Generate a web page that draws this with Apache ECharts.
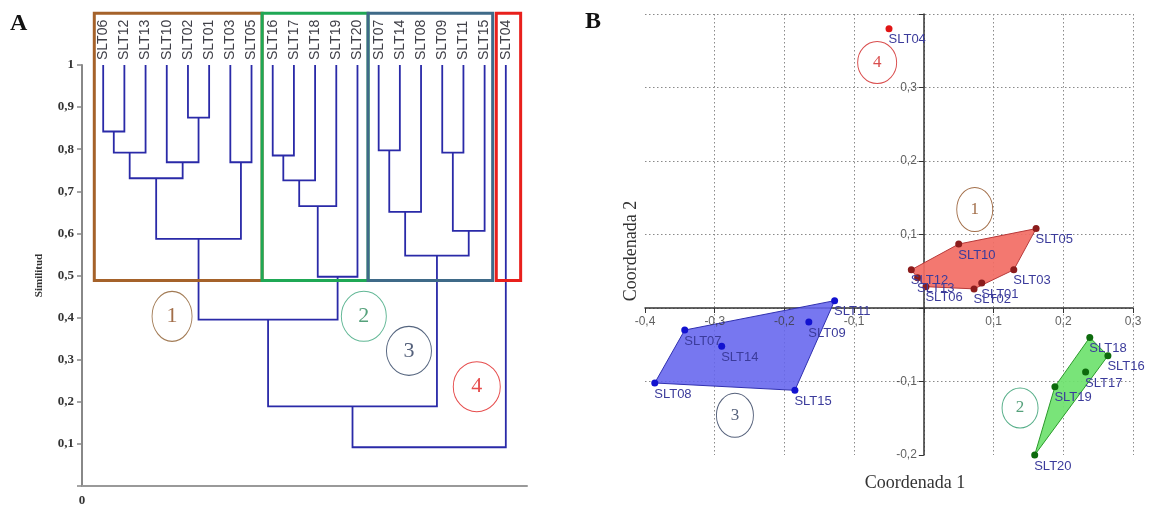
<!DOCTYPE html>
<html><head><meta charset="utf-8">
<script src="https://cdn.jsdelivr.net/npm/echarts@6/dist/echarts.min.js"></script>
<style>html,body{margin:0;padding:0;background:#fff}#c{width:1149px;height:507px}</style>
</head><body><div id="c"></div>
<script>
// ---------- DATA: panel A (dendrogram) ----------
const leafNames = ['SLT06','SLT12','SLT13','SLT10','SLT02','SLT01','SLT03','SLT05',
  'SLT16','SLT17','SLT18','SLT19','SLT20','SLT07','SLT14','SLT08','SLT09','SLT11','SLT15','SLT04'];
// [left child, right child, similarity]; children are leaf names or 'm<index>'
const merges = [
  ['SLT06','SLT12',0.842], ['m0','SLT13',0.792], ['SLT02','SLT01',0.875], ['SLT10','m2',0.769],
  ['m1','m3',0.731], ['SLT03','SLT05',0.769], ['m4','m5',0.587],
  ['SLT16','SLT17',0.785], ['m7','SLT18',0.726], ['m8','SLT19',0.665], ['m9','SLT20',0.497],
  ['SLT07','SLT14',0.797], ['m11','SLT08',0.651], ['SLT09','SLT11',0.792], ['m13','SLT15',0.606],
  ['m12','m14',0.547], ['m6','m10',0.395], ['m16','m15',0.189], ['m17','SLT04',0.092]
];
const cutLevel = 0.488;
const clusterFirstLeaf = ['SLT06','SLT16','SLT07','SLT04'];
const clusterLastLeaf  = ['SLT05','SLT20','SLT15','SLT04'];
const clusterIds = ['1','2','3','4'];

// ---------- DATA: panel B (PCoA) ----------
const pointNames = ['SLT01','SLT02','SLT03','SLT04','SLT05','SLT06','SLT07','SLT08','SLT09','SLT10',
  'SLT11','SLT12','SLT13','SLT14','SLT15','SLT16','SLT17','SLT18','SLT19','SLT20'];
const coord1 = [0.083,0.072,0.129,-0.050,0.161,0.003,-0.343,-0.386,-0.165,0.050,
  -0.128,-0.018,-0.009,-0.290,-0.185,0.264,0.232,0.238,0.188,0.159];
const coord2 = [0.034,0.026,0.052,0.380,0.108,0.029,-0.030,-0.102,-0.019,0.087,
  0.010,0.052,0.041,-0.052,-0.112,-0.065,-0.087,-0.040,-0.107,-0.200];
const pointCluster = [1,1,1,4,1,1,3,3,3,1,3,1,1,3,3,2,2,2,2,2];
const xTicksB = [-0.4,-0.3,-0.2,-0.1,0.1,0.2,0.3];
const yTicksB = [-0.2,-0.1,0.1,0.2,0.3];

// ---------- STYLE ----------
const boxColors = ['#a5622a','#1fa855','#3f6a88','#e8201c'];
const boxPad = [[0.42,0.5],[0.5,0.5],[0.5,0.38],[0.45,0.7]];
const boxTop = 1.123;
const annA = [ // ellipse annotations panel A (data units), size px
  {id:'1', x:3.25, y:0.403, w:40, h:50, border:'#8b5a2b', color:'#8b4a1b'},
  {id:'2', x:12.3, y:0.403, w:45, h:50, border:'#3aa57a', color:'#2a8a5a'},
  {id:'3', x:14.43, y:0.321, w:45, h:49, border:'#2a3f5f', color:'#2a3a5a'},
  {id:'4', x:17.63, y:0.236, w:47, h:50, border:'#e02020', color:'#e02020'}
];
const annB = [
  {id:'4', x:-0.067, y:0.334, w:39, h:42, border:'#d02020', color:'#d02020'},
  {id:'1', x:0.073, y:0.134, w:36, h:44, border:'#8b4a1b', color:'#8b4a1b'},
  {id:'3', x:-0.271, y:-0.146, w:37, h:44, border:'#2a3a5a', color:'#2a3a5a'},
  {id:'2', x:0.138, y:-0.136, w:36, h:40, border:'#2a9a6a', color:'#2a8a5a'}
];
const clusterPoint = {1:'#8b1c1c', 2:'#0d6b0d', 3:'#1212d0', 4:'#e01515'};
const clusterFill = {1:'rgba(242,108,100,0.92)', 2:'rgba(110,226,110,0.92)', 3:'rgba(100,100,238,0.88)'};
const clusterEdge = {1:'#b83a3a', 2:'#2a9a2a', 3:'#3030b0'};

// ---------- BUILD dendrogram ----------
const pos = {};
leafNames.forEach((n,i)=>{pos[n]={x:i,h:1};});
const links = [];
merges.forEach((m,i)=>{
  const a=pos[m[0]], b=pos[m[1]], h=m[2];
  links.push({coords:[[a.x,a.h],[a.x,h],[b.x,h],[b.x,b.h]]});
  pos['m'+i]={x:(a.x+b.x)/2,h:h};
});
const boxes = clusterFirstLeaf.map((f,i)=>{
  const i0=leafNames.indexOf(f), i1=leafNames.indexOf(clusterLastLeaf[i]);
  return [i0-boxPad[i][0], i1+boxPad[i][1], cutLevel, boxTop, i];
});

// ---------- BUILD hulls ----------
function hull(pts){
  pts = pts.slice().sort((a,b)=>a[0]-b[0]||a[1]-b[1]);
  const cr=(o,a,b)=>(a[0]-o[0])*(b[1]-o[1])-(a[1]-o[1])*(b[0]-o[0]);
  const lo=[],up=[];
  for(const p of pts){while(lo.length>=2&&cr(lo[lo.length-2],lo[lo.length-1],p)<=0)lo.pop();lo.push(p);}
  for(let i=pts.length-1;i>=0;i--){const p=pts[i];while(up.length>=2&&cr(up[up.length-2],up[up.length-1],p)<=0)up.pop();up.push(p);}
  up.pop();lo.pop();return lo.concat(up);
}
const hullClusters=[1,2,3];
const hulls = hullClusters.map(c=>hull(pointNames.map((n,i)=>[coord1[i],coord2[i],pointCluster[i]]).filter(p=>p[2]===c).map(p=>[p[0],p[1]])));

const fmt = v => v.toFixed(1).replace('.',',');
const serif = "'Liberation Serif','DejaVu Serif',serif";
const sans = "'Liberation Sans',Arial,sans-serif";

const scatterSeries = [1,2,3,4].map(c=>({
  type:'scatter', xAxisIndex:2, yAxisIndex:1, z:5,
  symbolSize:7, itemStyle:{color:clusterPoint[c], opacity:1},
  data: pointNames.map((n,i)=>({name:n,value:[coord1[i],coord2[i]],c:pointCluster[i]})).filter(d=>d.c===c).map(d=>({name:d.name,value:d.value})),
  label:{show:true, formatter:'{b}', position:[3,8], color:'#3b3b9b', fontSize:13, fontFamily:sans},
  labelLayout:{hideOverlap:false}, emphasis:{disabled:true}
}));

function annSeries(list, xi, yi, fs){
  return {type:'scatter', xAxisIndex:xi, yAxisIndex:yi, z:6, silent:true,
    data:list.map(a=>({value:[a.x,a.y], symbolSize:[a.w,a.h],
      itemStyle:{color:'rgba(255,255,255,0)', borderColor:a.border, borderWidth:1},
      label:{show:true, position:'inside', formatter:a.id, color:a.color, fontSize:fs, fontFamily:serif}})),
    symbol:'circle', emphasis:{disabled:true}};
}
// tick labels of panel B placed next to the crossing axes
const tickLabelStyle = {show:true, fontFamily:sans, fontSize:12, color:'#3a3a3a'};
const xTickSeries = {type:'scatter', xAxisIndex:2, yAxisIndex:1, z:4, silent:true, symbolSize:0,
  data:xTicksB.map(t=>({value:[t,0], name:fmt(t)})),
  label:Object.assign({position:'bottom', distance:8, formatter:'{b}'}, tickLabelStyle), emphasis:{disabled:true}};
const yTickSeries = {type:'scatter', xAxisIndex:2, yAxisIndex:1, z:4, silent:true, symbolSize:0,
  data:yTicksB.map(t=>({value:[0,t], name:fmt(t)})),
  label:Object.assign({position:'left', distance:7, formatter:'{b}'}, tickLabelStyle), emphasis:{disabled:true}};

const chart = echarts.init(document.getElementById('c'), null, {renderer:'canvas'});
chart.setOption({
  animation:false,
  backgroundColor:'#fff',
  grid:[
    {left:82, top:65, width:445, height:424},
    {left:645, right:16, top:14, bottom:52}
  ],
  xAxis:[
    {gridIndex:0, type:'value', min:-1, max:20, interval:1,
      axisLine:{show:true, onZero:false, lineStyle:{color:'#999', width:2}},
      axisTick:{show:false}, splitLine:{show:false},
      axisLabel:{margin:8, fontFamily:serif, fontWeight:'bold', fontSize:13, color:'#333',
        formatter:v=>Math.abs(v+1)<1e-6?'0':''}},
    {gridIndex:0, type:'value', position:'top', min:-1, max:20, interval:1,
      axisLine:{show:false}, axisTick:{show:false}, splitLine:{show:false},
      axisLabel:{rotate:90, margin:5, fontFamily:sans, fontSize:14, color:'#404048',
        formatter:v=>{const k=Math.round(v);return (k>=0&&k<leafNames.length)?leafNames[k]:'';}}},
    {gridIndex:1, type:'value', min:-0.4, max:0.3, interval:0.1,
      axisLine:{show:true, onZero:true, lineStyle:{color:'#333', width:1.5}},
      axisTick:{show:true, length:5, lineStyle:{color:'#333'}},
      splitLine:{show:true, showMinLine:false, lineStyle:{color:'#8a8a8a', type:[1.5,2.5], width:1}},
      axisLabel:{show:false}}
  ],
  yAxis:[
    {gridIndex:0, type:'value', min:0, max:1, interval:0.1,
      name:'Similitud', nameLocation:'middle', nameGap:37,
      nameTextStyle:{fontFamily:serif, fontWeight:'bold', fontSize:11, color:'#333'},
      axisLine:{show:true, onZero:false, lineStyle:{color:'#888', width:2}},
      axisTick:{show:true, length:5, lineStyle:{color:'#888', width:1.5}},
      splitLine:{show:false},
      axisLabel:{margin:8, fontFamily:serif, fontWeight:'bold', fontSize:13, color:'#333',
        formatter:v=>v<1e-6?'':(Math.abs(v-1)<1e-6?'1':fmt(v))}},
    {gridIndex:1, type:'value', min:-0.2, max:0.4, interval:0.1,
      axisLine:{show:true, onZero:true, lineStyle:{color:'#333', width:1.5}},
      axisTick:{show:true, length:5, lineStyle:{color:'#333'}},
      splitLine:{show:true, showMinLine:false, lineStyle:{color:'#8a8a8a', type:[1.5,2.5], width:1}},
      axisLabel:{show:false}}
  ],
  graphic:[
    {type:'text', left:10, top:12, style:{text:'A', font:"bold 24px 'Liberation Serif'", fill:'#111'}},
    {type:'text', left:585, top:10, style:{text:'B', font:"bold 24px 'Liberation Serif'", fill:'#111'}},
    {type:'text', x:915, y:483, style:{text:'Coordenada 1', font:"18px 'Liberation Serif'", fill:'#333', align:'center', verticalAlign:'middle'}},
    {type:'text', x:631, y:251, rotation:Math.PI/2, style:{text:'Coordenada 2', font:"18px 'Liberation Serif'", fill:'#333', align:'center', verticalAlign:'middle'}}
  ],
  series:[
    {type:'custom', xAxisIndex:0, yAxisIndex:0, clip:false, silent:true, z:3,
      encode:{x:[0,1], y:[2,3]},
      data:boxes,
      renderItem:(params, api)=>{
        const p0=api.coord([api.value(0), api.value(3)]);
        const p1=api.coord([api.value(1), api.value(2)]);
        return {type:'rect', shape:{x:p0[0], y:p0[1], width:p1[0]-p0[0], height:p1[1]-p0[1]},
          style:{fill:null, stroke:boxColors[api.value(4)], lineWidth:3}};
      }},
    {type:'lines', coordinateSystem:'cartesian2d', xAxisIndex:0, yAxisIndex:0, polyline:true, z:2,
      silent:true, lineStyle:{color:'#2a2aa8', width:1.8, opacity:1}, data:links},
    annSeries(annA, 0, 0, 22),
    xTickSeries, yTickSeries,
    {type:'custom', xAxisIndex:2, yAxisIndex:1, clip:false, silent:true, z:2,
      data:hulls.map(h=>h[0]),
      renderItem:(params, api)=>{
        const c=hullClusters[params.dataIndex];
        const pts=hulls[params.dataIndex].map(p=>api.coord(p));
        return {type:'polygon', shape:{points:pts}, style:{fill:clusterFill[c], stroke:clusterEdge[c], lineWidth:1}};
      }},
    ...scatterSeries,
    annSeries(annB, 2, 1, 17)
  ]
});
</script></body></html>
